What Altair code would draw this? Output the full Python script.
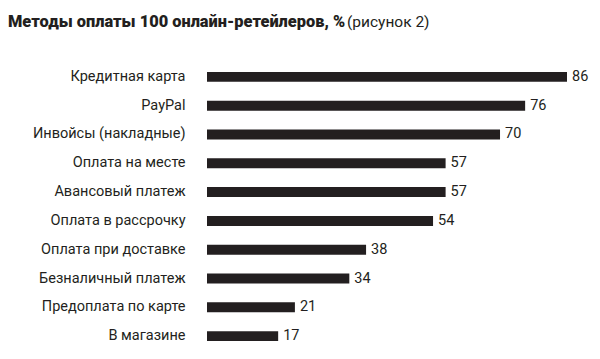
import altair as alt
import pandas as pd

categories = ["Кредитная карта", "PayPal", "Инвойсы (накладные)", "Оплата на месте",
              "Авансовый платеж", "Оплата в рассрочку", "Оплата при доставке",
              "Безналичный платеж", "Предоплата по карте", "В магазине"]
values = [86, 76, 70, 57, 57, 54, 38, 34, 21, 17]

title_bold = "Методы оплаты 100 онлайн-ретейлеров, %"
title_regular = "(рисунок 2)"

df = pd.DataFrame({"method": categories, "value": values})
INK = "#231f20"
FONT = "Roboto"

y = alt.Y("method:N", sort=categories, title=None,
          scale=alt.Scale(paddingInner=0.654, paddingOuter=0.1),
          axis=alt.Axis(ticks=False, domain=False, labelPadding=22,
                        labelFontSize=14.5, labelFont=FONT, labelColor=INK))
x = alt.X("value:Q", title=None, axis=None, scale=alt.Scale(domain=[0, 86]))

bars = alt.Chart(df).mark_bar(color=INK).encode(x=x, y=y)
labels = alt.Chart(df).mark_text(align="left", baseline="middle", dx=5, font=FONT,
                                 fontSize=14.5, color=INK).encode(x=x, y=y, text="value:Q")

t1 = alt.Chart(pd.DataFrame({"t": [title_bold]})).mark_text(
    align="left", baseline="alphabetic", font=FONT, fontSize=16.4, fontWeight=900, color=INK
).encode(x=alt.value(-199), y=alt.value(-42), text="t:N")

t2 = alt.Chart(pd.DataFrame({"t": [title_regular]})).mark_text(
    align="left", baseline="alphabetic", font=FONT, fontSize=15.5, color=INK
).encode(x=alt.value(140), y=alt.value(-42), text="t:N")

chart = (bars + labels + t1 + t2).properties(
    width=360, height=275,
    padding={"left": 199, "top": 61, "right": 25, "bottom": 0},
    autosize=alt.AutoSizeParams(type="none"),
).configure_view(stroke=None)

chart.save("out.html", embed_options={"renderer": "svg", "actions": False})
